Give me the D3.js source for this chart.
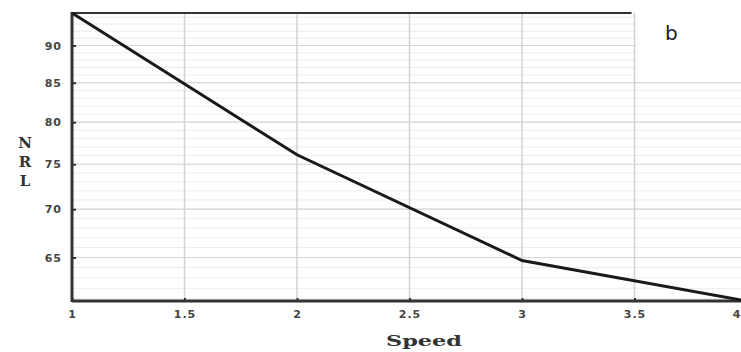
<!DOCTYPE html>
<html>
<head>
<meta charset="utf-8">
<script src="https://cdn.jsdelivr.net/npm/d3@7"></script>
<style>
  body { margin: 0; background: #fff; }
  svg { display: block; }
</style>
</head>
<body>
<script>
(function() {

    // data
    var speed = [1, 2, 3, 4];
    var nrl = [94.6, 76.1, 64.7, 60.8];
    var xTicks = [1, 1.5, 2, 2.5, 3, 3.5, 4];
    var xTickLabels = ["1", "1.5", "2", "2.5", "3", "3.5", "4"];
    var yTicks = [65, 70, 75, 80, 85, 90];
    var yMinor = d3.range(61, 95, 1);
    var yLabelLetters = ["N", "R", "L"];

    var width = 741, height = 352;
    var left = 72, right = 747, top = 13, bottom = 301;

    var svg = d3.select("body").append("svg")
        .attr("width", width)
        .attr("height", height);

    var x = d3.scaleLinear().domain([1, 4]).range([left, right]);
    // the value axis is spaced like a log scale
    var y = d3.scaleLog().domain([60.8, 94.6]).range([bottom, top]);

    // minor horizontal grid
    svg.append("g").selectAll("line")
        .data(yMinor)
        .enter().append("line")
        .attr("x1", left).attr("x2", width)
        .attr("y1", function(d) { return y(d); })
        .attr("y2", function(d) { return y(d); })
        .attr("stroke", "#ececec")
        .attr("stroke-width", 1);

    // major horizontal grid
    svg.append("g").selectAll("line")
        .data(yTicks)
        .enter().append("line")
        .attr("x1", left).attr("x2", width)
        .attr("y1", function(d) { return y(d); })
        .attr("y2", function(d) { return y(d); })
        .attr("stroke", "#d6d6d6")
        .attr("stroke-width", 1.2);

    // vertical grid
    svg.append("g").selectAll("line")
        .data(xTicks.slice(1))
        .enter().append("line")
        .attr("x1", function(d) { return x(d); })
        .attr("x2", function(d) { return x(d); })
        .attr("y1", top).attr("y2", bottom)
        .attr("stroke", "#d2d2d2")
        .attr("stroke-width", 1.5);

    // white panel with the "b" label
    svg.append("rect")
        .attr("x", x(3.5) + 2).attr("y", 0)
        .attr("width", width - x(3.5) - 2).attr("height", 77)
        .attr("fill", "#fff");

    svg.append("text")
        .attr("x", 665).attr("y", 40)
        .attr("font-family", "DejaVu Sans, sans-serif")
        .attr("font-size", 20)
        .attr("fill", "#222")
        .text("b");

    // frame
    svg.append("line")
        .attr("x1", left).attr("x2", x(3.5) - 3)
        .attr("y1", top).attr("y2", top)
        .attr("stroke", "#333").attr("stroke-width", 2);

    // axes
    var xAxis = d3.axisBottom(x)
        .tickValues(xTicks)
        .tickFormat(function(d, i) { return xTickLabels[i]; })
        .tickSize(-3)
        .tickPadding(9);

    var gx = svg.append("g")
        .attr("transform", "translate(0," + bottom + ")")
        .call(xAxis);
    gx.select(".domain").remove();
    gx.selectAll(".tick line").attr("stroke", "#333").attr("stroke-width", 2);
    gx.selectAll("text")
        .attr("font-family", "DejaVu Sans, sans-serif")
        .attr("font-weight", "bold")
        .attr("font-size", 11)
        .attr("letter-spacing", 1)
        .attr("fill", "#444");
    // last label sits at the window edge
    gx.selectAll(".tick").filter(function(d) { return d === 4; })
        .select("text")
        .attr("text-anchor", "end")
        .attr("x", x(4) > width ? width - x(4) : 0);

    var yAxis = d3.axisLeft(y)
        .tickValues(yTicks)
        .tickFormat(d3.format("d"))
        .tickSize(-4)
        .tickPadding(10);

    var gy = svg.append("g")
        .attr("transform", "translate(" + left + ",0)")
        .call(yAxis);
    gy.select(".domain").remove();
    gy.selectAll(".tick line").attr("stroke", "#333").attr("stroke-width", 2);
    gy.selectAll("text")
        .attr("font-family", "DejaVu Sans, sans-serif")
        .attr("font-weight", "bold")
        .attr("font-size", 11)
        .attr("letter-spacing", 1)
        .attr("fill", "#444");

    svg.append("line")
        .attr("x1", left).attr("x2", width)
        .attr("y1", bottom).attr("y2", bottom)
        .attr("stroke", "#333").attr("stroke-width", 3);

    svg.append("line")
        .attr("x1", left).attr("x2", left)
        .attr("y1", top - 1).attr("y2", bottom + 1)
        .attr("stroke", "#333").attr("stroke-width", 3);

    // the series
    var line = d3.line()
        .x(function(d, i) { return x(speed[i]); })
        .y(function(d) { return y(d); });

    svg.append("path")
        .datum(nrl)
        .attr("d", line)
        .attr("fill", "none")
        .attr("stroke", "#1a1a1a")
        .attr("stroke-width", 3);

    // axis titles
    svg.append("text")
        .attr("x", 424).attr("y", 346)
        .attr("text-anchor", "middle")
        .attr("font-family", "DejaVu Serif, serif")
        .attr("font-weight", "bold")
        .attr("font-size", 15)
        .attr("textLength", 76)
        .attr("lengthAdjust", "spacingAndGlyphs")
        .attr("fill", "#333")
        .text("Speed");

    svg.append("g").selectAll("text")
        .data(yLabelLetters)
        .enter().append("text")
        .attr("x", 25)
        .attr("y", function(d, i) { return 148 + i * 19; })
        .attr("text-anchor", "middle")
        .attr("font-family", "DejaVu Serif, serif")
        .attr("font-weight", "bold")
        .attr("font-size", 15)
        .attr("fill", "#333")
        .text(function(d) { return d; });

})();
</script>
</body>
</html>
